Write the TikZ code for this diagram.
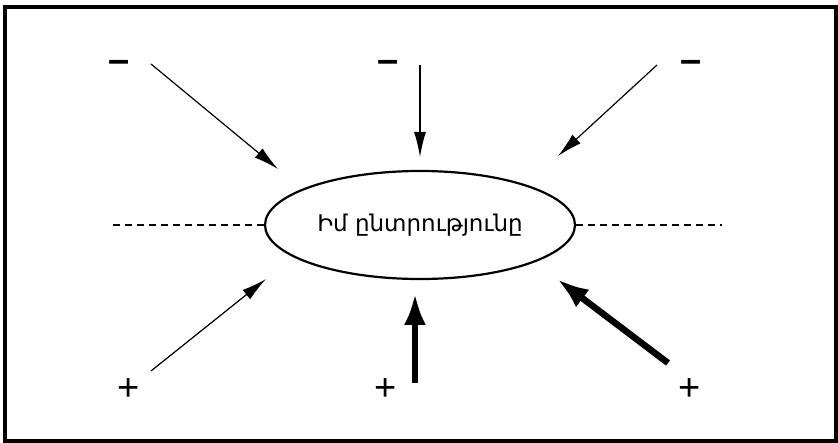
\documentclass[tikz,border=0pt]{standalone}
\usepackage{fontspec}
\setmainfont{Liberation Sans}
\newfontfamily\armfont{DejaVu Sans}
\usetikzlibrary{shapes.geometric,arrows.meta}

\begin{document}
\begin{tikzpicture}[x=1pt,y=-1pt,
    sign/.style={font=\fontsize{38}{38}\selectfont, inner sep=0pt, anchor=base},
    thin_arrow/.style={line width=1.2pt, -{Latex[length=25pt,width=12pt]}},
    thick_arrow/.style={line width=6.5pt, -{Latex[length=32pt,width=22pt]}},
    dash_line/.style={line width=1.2pt, dash pattern=on 7pt off 5pt}]
    \useasboundingbox (0,0) rectangle (838,443);
    % Frame
    \draw[line width=4pt] (4.5,7.5) rectangle (835.5,441);

    % Central choice
    \node[draw, ellipse, line width=2.2pt, minimum width=310pt, minimum height=108pt, inner sep=0pt,
          font=\armfont\fontsize{23}{23}\selectfont] (choice) at (420,225) {Իմ ընտրությունը};

    % Signs
    \node[sign, font=\fontsize{38}{38}\selectfont\bfseries] (minus_left) at (119,73) {–};
    \node[sign, font=\fontsize{38}{38}\selectfont\bfseries] (minus_mid) at (388,73) {–};
    \node[sign, font=\fontsize{38}{38}\selectfont\bfseries] (minus_right) at (691,73) {–};
    \node[sign] (plus_left) at (129,400) {+};
    \node[sign] (plus_mid) at (386,400) {+};
    \node[sign] (plus_right) at (690,400) {+};

    % Arrow ends
    \coordinate (tl_tail) at (151,64);
    \coordinate (tl_tip) at (278,169);
    \coordinate (tm_tail) at (420,65);
    \coordinate (tm_tip) at (420,157);
    \coordinate (tr_tail) at (657,65);
    \coordinate (tr_tip) at (558,156);
    \coordinate (bl_tail) at (151,371);
    \coordinate (bl_tip) at (266,279);
    \coordinate (bm_tail) at (415,383);
    \coordinate (bm_tip) at (415,293);
    \coordinate (br_tail) at (668,363);
    \coordinate (br_tip) at (557,279);
    \coordinate (left_end) at (113,225);
    \coordinate (right_end) at (722,225);

    % Connections
    \draw[thin_arrow] (tl_tail) -- (tl_tip);
    \draw[thin_arrow] (tm_tail) -- (tm_tip);
    \draw[thin_arrow] (tr_tail) -- (tr_tip);
    \draw[thin_arrow] (bl_tail) -- (bl_tip);
    \draw[thick_arrow] (bm_tail) -- (bm_tip);
    \draw[thick_arrow] (br_tail) -- (br_tip);
    \draw[dash_line] (left_end) -- (choice.west);
    \draw[dash_line] (choice.east) -- (right_end);
\end{tikzpicture}
\end{document}
